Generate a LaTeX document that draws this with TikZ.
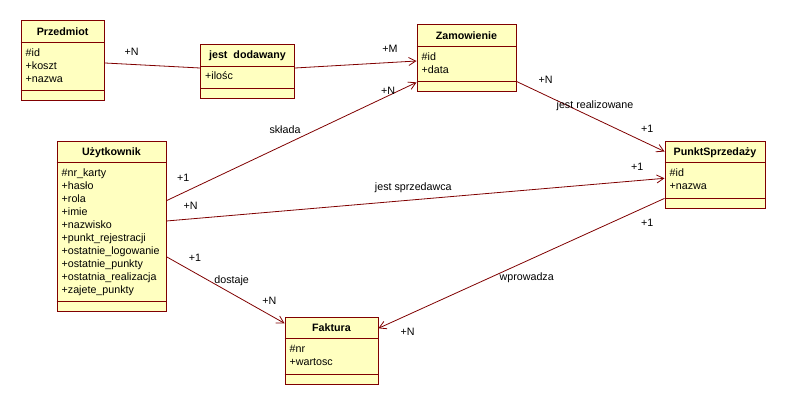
\documentclass[tikz,border=0pt]{standalone}
\usepackage{fontspec}
\setmainfont{Liberation Sans}
\usetikzlibrary{arrows.meta,calc}
\definecolor{umlred}{RGB}{128,0,0}
\definecolor{umlfill}{RGB}{255,255,192}
\begin{document}
\begin{tikzpicture}[x=1pt,y=-1pt,
  box/.style={draw=umlred,fill=umlfill,line width=0.9pt,inner sep=0pt,anchor=north west},
  sep/.style={draw=umlred,line width=0.9pt},
  ttl/.style={font=\fontsize{10.7}{13}\selectfont\bfseries,inner sep=0pt,anchor=base},
  attr/.style={font=\fontsize{10.7}{13}\selectfont,inner sep=0pt,anchor=base west},
  lbl/.style={font=\fontsize{10.7}{13}\selectfont,inner sep=0pt,text height=8pt,text depth=0pt},
  assoc/.style={draw=umlred,line width=0.8pt},
  arr/.style={assoc,-{Straight Barb[length=7pt,width=8pt,line width=0.8pt]}}]
\useasboundingbox[fill=white] (0,0) rectangle (785,404);

% ---------- classes ----------
% Przedmiot
\node[box,minimum width=83.5pt,minimum height=79.5pt] (przedmiot) at (20.5,20.5) {};
\draw[sep] ($(przedmiot.north west)+(0,22)$) -- ($(przedmiot.north east)+(0,22)$);
\draw[sep] ($(przedmiot.south west)+(0,-10)$) -- ($(przedmiot.south east)+(0,-10)$);
\node[ttl] (przedmiotT) at ($(przedmiot.north)+(0,15)$) {Przedmiot};
\node[attr] (przedmiotA1) at ($(przedmiot.north west)+(5,36)$) {\#id};
\node[attr] (przedmiotA2) at ($(przedmiot.north west)+(5,49)$) {+koszt};
\node[attr] (przedmiotA3) at ($(przedmiot.north west)+(5,62)$) {+nazwa};

% jest dodawany
\node[box,minimum width=94pt,minimum height=54pt] (dodawany) at (200,44) {};
\draw[sep] ($(dodawany.north west)+(0,22)$) -- ($(dodawany.north east)+(0,22)$);
\draw[sep] ($(dodawany.south west)+(0,-10)$) -- ($(dodawany.south east)+(0,-10)$);
\node[ttl] (dodawanyT) at ($(dodawany.north)+(0,15)$) {jest~ dodawany};
\node[attr] (dodawanyA1) at ($(dodawany.north west)+(5,36)$) {+ilośc};

% Zamowienie
\node[box,minimum width=99pt,minimum height=66.5pt] (zamowienie) at (416.5,24.5) {};
\draw[sep] ($(zamowienie.north west)+(0,22)$) -- ($(zamowienie.north east)+(0,22)$);
\draw[sep] ($(zamowienie.south west)+(0,-10)$) -- ($(zamowienie.south east)+(0,-10)$);
\node[ttl] (zamowienieT) at ($(zamowienie.north)+(0,15)$) {Zamowienie};
\node[attr] (zamowienieA1) at ($(zamowienie.north west)+(5,36)$) {\#id};
\node[attr] (zamowienieA2) at ($(zamowienie.north west)+(5,49)$) {+data};

% PunktSprzedazy
\node[box,minimum width=100pt,minimum height=67pt] (punkt) at (664.5,140.5) {};
\draw[sep] ($(punkt.north west)+(0,22)$) -- ($(punkt.north east)+(0,22)$);
\draw[sep] ($(punkt.south west)+(0,-10)$) -- ($(punkt.south east)+(0,-10)$);
\node[ttl] (punktT) at ($(punkt.north)+(0,15)$) {PunktSprzedaży};
\node[attr] (punktA1) at ($(punkt.north west)+(5,36)$) {\#id};
\node[attr] (punktA2) at ($(punkt.north west)+(5,49)$) {+nazwa};

% Uzytkownik
\node[box,minimum width=109pt,minimum height=170.5pt] (uzytkownik) at (56.5,140.5) {};
\draw[sep] ($(uzytkownik.north west)+(0,22)$) -- ($(uzytkownik.north east)+(0,22)$);
\draw[sep] ($(uzytkownik.south west)+(0,-10)$) -- ($(uzytkownik.south east)+(0,-10)$);
\node[ttl] (uzytkownikT) at ($(uzytkownik.north)+(0,15)$) {Użytkownik};
\foreach \t [count=\i from 0] in {\#nr\_karty,+hasło,+rola,+imie,+nazwisko,+punkt\_rejestracji,+ostatnie\_logowanie,+ostatnie\_punkty,+ostatnia\_realizacja,+zajete\_punkty}
  \node[attr] (uzytkownikA\i) at ($(uzytkownik.north west)+(5,36+13*\i)$) {\t};

% Faktura
\node[box,minimum width=93pt,minimum height=67pt] (faktura) at (284.5,316.5) {};
\draw[sep] ($(faktura.north west)+(0,22)$) -- ($(faktura.north east)+(0,22)$);
\draw[sep] ($(faktura.south west)+(0,-10)$) -- ($(faktura.south east)+(0,-10)$);
\node[ttl] (fakturaT) at ($(faktura.north)+(0,15)$) {Faktura};
\node[attr] (fakturaA1) at ($(faktura.north west)+(5,36)$) {\#nr};
\node[attr] (fakturaA2) at ($(faktura.north west)+(5,49)$) {+wartosc};

% ---------- connector end points on the borders ----------
\coordinate (p1) at ($(przedmiot.north east)+(0,42.5)$);
\coordinate (d1) at ($(dodawany.north west)+(0,24)$);
\coordinate (d2) at ($(dodawany.north east)+(0,24)$);
\coordinate (z1) at ($(zamowienie.north west)+(0,36.5)$);
\coordinate (z2) at ($(zamowienie.south west)+(0,-9.5)$);
\coordinate (z3) at ($(zamowienie.south east)+(0,-10.5)$);
\coordinate (u1) at ($(uzytkownik.north east)+(0,60.2)$);
\coordinate (u2) at ($(uzytkownik.north east)+(0,80.5)$);
\coordinate (u3) at ($(uzytkownik.north east)+(0,116.2)$);
\coordinate (k1) at ($(punkt.north west)+(0,11)$);
\coordinate (k2) at ($(punkt.north west)+(0,37.8)$);
\coordinate (k3) at ($(punkt.south west)+(0,-10)$);
\coordinate (f1) at ($(faktura.north west)+(0,6.8)$);
\coordinate (f2) at ($(faktura.north east)+(0,11.8)$);

% ---------- connectors ----------
\draw[assoc] (p1) -- (d1);
\draw[arr] (d2) -- (z1);
\draw[arr] (u1) -- (z2);
\draw[arr] (u2) -- (k2);
\draw[arr] (z3) -- (k1);
\draw[arr] (k3) -- (f2);
\draw[arr] (u3) -- (f1);

% ---------- labels ----------
\node[lbl] (l1) at (131.7,51.7) {+N};
\node[lbl] (l2) at (390,49) {+M};
\node[lbl] (l3) at (388,90.7) {+N};
\node[lbl] (l4) at (285,129) {składa};
\node[lbl] (l5) at (183.3,177) {+1};
\node[lbl] (l6) at (190.7,205) {+N};
\node[lbl] (l7) at (413.3,186) {jest sprzedawca};
\node[lbl] (l8) at (637.3,166.7) {+1};
\node[lbl] (l9) at (545.7,80) {+N};
\node[lbl] (l10) at (595,104.3) {jest realizowane};
\node[lbl] (l11) at (647.3,128.3) {+1};
\node[lbl] (l12) at (526.7,276) {wprowadza};
\node[lbl] (l13) at (407.7,331) {+N};
\node[lbl] (l14) at (647.3,222.3) {+1};
\node[lbl] (l15) at (195,257.7) {+1};
\node[lbl] (l16) at (231.7,279) {dostaje};
\node[lbl] (l17) at (269.3,300) {+N};
\end{tikzpicture}
\end{document}
